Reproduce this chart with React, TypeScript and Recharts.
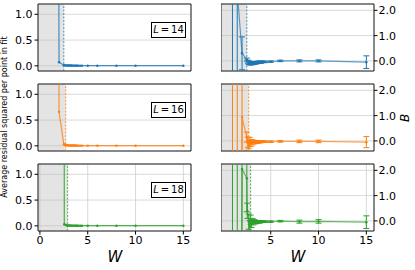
import React from 'react'
import { LineChart, Line, XAxis, YAxis, CartesianGrid, ReferenceArea, ReferenceLine, ErrorBar } from 'recharts'

// one row of panels per system size
const L_VALUES = [14, 16, 18]
const COLORS = ['#1f77b4', '#ff7f0e', '#2ca02c']
const W_CUT = [2.5, 2.7, 2.9]

const W14 = [1.0, 1.5, 2.0, 2.5, 2.6, 2.7, 2.8, 2.9, 3.0, 3.1, 3.2, 3.3, 3.4, 3.5, 3.6, 3.7, 3.8, 3.9, 4.0, 4.2, 4.4, 5, 6, 8, 10, 15]
const RES14 = [45, 30, 0.07, 0.012, 0.01, 0.009, 0.008, 0.007, 0.007, 0.006, 0.006, 0.006, 0.005, 0.005, 0.005, 0.005, 0.004, 0.004, 0.004, 0.004, 0.004, 0.003, 0.003, 0.003, 0.003, 0.003]
const B14 = [8, 2.74, 0.3, 0.05, -0.03, -0.07, -0.09, -0.1, -0.09, -0.09, -0.08, -0.08, -0.07, -0.07, -0.06, -0.06, -0.05, -0.05, -0.05, -0.04, -0.04, -0.03, 0.0, 0.0, 0.0, -0.05]
const ERR14 = [40, 6, 0.65, 0.06, 0.06, 0.07, 0.07, 0.06, 0.06, 0.06, 0.05, 0.05, 0.05, 0.05, 0.04, 0.04, 0.04, 0.04, 0.04, 0.03, 0.03, 0.03, 0.03, 0.04, 0.04, 0.25]

const W16 = [1.0, 1.5, 2.0, 2.5, 2.6, 2.7, 2.8, 2.9, 3.0, 3.1, 3.2, 3.3, 3.4, 3.5, 3.6, 3.7, 3.8, 3.9, 4.0, 4.2, 4.4, 5, 6, 8, 10, 15]
const RES16 = [50, 40, 0.66, 0.03, 0.02, 0.015, 0.012, 0.01, 0.009, 0.008, 0.008, 0.007, 0.007, 0.006, 0.006, 0.006, 0.005, 0.005, 0.005, 0.005, 0.004, 0.004, 0.004, 0.004, 0.003, 0.003]
const B16 = [-50, -60, 0.94, 0.15, -0.05, -0.16, 0.02, -0.12, -0.02, -0.09, -0.03, -0.07, -0.04, -0.06, -0.04, -0.05, -0.04, -0.04, -0.04, -0.03, -0.03, -0.03, -0.02, -0.02, -0.02, -0.05]
const ERR16 = [100, 100, 3, 0.2, 0.2, 0.15, 0.12, 0.1, 0.08, 0.07, 0.06, 0.05, 0.05, 0.04, 0.04, 0.04, 0.03, 0.03, 0.03, 0.03, 0.03, 0.03, 0.03, 0.05, 0.05, 0.22]

const W18 = [1.0, 1.5, 2.0, 2.5, 2.55, 2.7, 2.8, 2.9, 3.0, 3.1, 3.2, 3.3, 3.4, 3.5, 3.6, 3.7, 3.8, 3.9, 4.0, 4.2, 4.4, 5, 6, 8, 10, 15]
const RES18 = [60, 50, 40, 20, 0.03, 0.015, 0.01, 0.008, 0.007, 0.006, 0.006, 0.005, 0.005, 0.005, 0.004, 0.004, 0.004, 0.004, 0.003, 0.003, 0.003, 0.003, 0.003, 0.003, 0.003, 0.003]
const B18 = [-20, -30, 2.05, 1.69, 0.4, -0.03, -0.2, 0.05, -0.12, 0.0, -0.08, -0.02, -0.06, -0.03, -0.05, -0.04, -0.04, -0.04, -0.03, -0.03, -0.03, -0.03, -0.01, -0.03, -0.02, -0.05]
const ERR18 = [50, 50, 5, 1.33, 0.3, 0.3, 0.22, 0.18, 0.14, 0.1, 0.08, 0.07, 0.06, 0.05, 0.05, 0.04, 0.04, 0.04, 0.03, 0.03, 0.03, 0.03, 0.03, 0.06, 0.07, 0.25]

const X_TICKS = [0, 5, 10, 15]
const RES_TICKS = [0, 0.5, 1.0]
const B_TICKS = [0, 0.5, 1.0, 1.5, 2.0]

const X_DOMAIN: [number, number] = [-0.2, 15.8]
const RES_DOMAIN: [number, number] = [-0.1, 1.2]
const B_DOMAIN: [number, number] = [-0.4, 2.25]

const SERIES = [
  { w: W14, res: RES14, b: B14, err: ERR14 },
  { w: W16, res: RES16, b: B16, err: ERR16 },
  { w: W18, res: RES18, b: B18, err: ERR18 },
]

const tickStyle = { fontSize: 11, fill: '#000' }
const fmt = (v: number) => v.toFixed(1)

const Panel = ({ row }: { row: number }) => {
  const s = SERIES[row]
  const data = s.w.map((w, i) => ({ w, res: s.res[i], b: s.b[i], err: s.err[i] }))
  const color = COLORS[row]
  const cut = W_CUT[row]
  const last = row === SERIES.length - 1
  const h = last ? 110 : 80
  const xAxis = (
    <XAxis
      dataKey="w"
      type="number"
      domain={X_DOMAIN}
      ticks={X_TICKS}
      allowDataOverflow
      height={h - 71}
      tick={last ? tickStyle : false}
      tickSize={3.5}
      tickMargin={2}
      axisLine={false}
      tickLine={{ stroke: '#000' }}
    />
  )

  return (
    <>
      {/* residual panel */}
      <div style={{ position: 'absolute', left: 0, top: row * 80 }}>
        <LineChart width={200} height={h} data={data} margin={{ top: 4, right: 9, bottom: 0, left: 0 }}>
          <CartesianGrid stroke="#cfcfcf" strokeWidth={0.8} />
          {xAxis}
          <YAxis
            type="number"
            domain={RES_DOMAIN}
            ticks={RES_TICKS}
            allowDataOverflow
            width={38}
            tick={tickStyle}
            tickFormatter={fmt}
            tickSize={3.5}
            tickMargin={2}
            axisLine={false}
            tickLine={{ stroke: '#000' }}
          />
          <ReferenceArea x1={X_DOMAIN[0]} x2={cut} y1={RES_DOMAIN[0]} y2={RES_DOMAIN[1]} fill="#b8b8b8" fillOpacity={0.38} stroke="none" />
          <ReferenceLine x={cut} stroke={color} strokeOpacity={0.8} strokeDasharray="2 1.5" />
          <Line
            dataKey="res"
            stroke={color}
            strokeOpacity={0.8}
            strokeWidth={1.2}
            dot={{ r: 1.2, fill: color, stroke: 'none' }}
            isAnimationActive={false}
          />
          <ReferenceArea x1={X_DOMAIN[0]} x2={X_DOMAIN[1]} y1={RES_DOMAIN[0]} y2={RES_DOMAIN[1]} fill="none" stroke="#222" strokeWidth={1} />
        </LineChart>
      </div>

      {/* B panel: axes, grid, shading and frame */}
      <div style={{ position: 'absolute', left: 221, top: row * 80 }}>
        <LineChart width={188} height={h} data={data} margin={{ top: 4, right: 0, bottom: 0, left: 0 }}>
          <CartesianGrid stroke="#cfcfcf" strokeWidth={0.8} />
          {xAxis}
          <YAxis
            orientation="right"
            type="number"
            domain={B_DOMAIN}
            ticks={B_TICKS}
            allowDataOverflow
            width={35}
            tick={tickStyle}
            tickFormatter={fmt}
            tickSize={3.5}
            tickMargin={1}
            axisLine={false}
            tickLine={{ stroke: '#000' }}
          />
          <ReferenceArea x1={X_DOMAIN[0]} x2={cut} y1={B_DOMAIN[0]} y2={B_DOMAIN[1]} fill="#b8b8b8" fillOpacity={0.38} stroke="none" />
          <ReferenceLine x={cut} stroke={color} strokeOpacity={0.8} strokeDasharray="2 1.5" />
          <Line dataKey="b" stroke="none" dot={false} isAnimationActive={false} />
          <ReferenceArea x1={X_DOMAIN[0]} x2={X_DOMAIN[1]} y1={B_DOMAIN[0]} y2={B_DOMAIN[1]} fill="none" stroke="#222" strokeWidth={1} />
        </LineChart>
      </div>

      {/* B panel: series with error bars, clipped to the plot box */}
      <div style={{ position: 'absolute', left: 221, top: row * 80, clipPath: `inset(4px 35px ${h - 71}px 0px)` }}>
        <LineChart width={188} height={h} data={data} margin={{ top: 4, right: 35, bottom: h - 71, left: 0 }}>
          <XAxis dataKey="w" type="number" domain={X_DOMAIN} allowDataOverflow hide height={0} />
          <YAxis type="number" domain={B_DOMAIN} allowDataOverflow hide width={0} />
          <Line
            dataKey="b"
            stroke={color}
            strokeOpacity={0.7}
            strokeWidth={1.2}
            dot={{ r: 1.2, fill: color, stroke: 'none' }}
            isAnimationActive={false}
          >
            <ErrorBar dataKey="err" width={3} stroke={color} strokeWidth={1} direction="y" />
          </Line>
        </LineChart>
      </div>

      {/* L label box */}
      <div
        style={{
          position: 'absolute',
          left: 151,
          top: 22 + row * 80,
          width: 35,
          height: 16,
          boxSizing: 'border-box',
          border: '1.5px solid #000',
          background: '#fff',
          fontSize: 10,
          lineHeight: '13px',
          textAlign: 'center',
          whiteSpace: 'nowrap',
        }}
      >
        <i>L</i>{'\u2009=\u2009'}{L_VALUES[row]}
      </div>
    </>
  )
}

const centered = (x: number, y: number, extra: React.CSSProperties): React.CSSProperties => ({
  position: 'absolute',
  left: x,
  top: y,
  whiteSpace: 'nowrap',
  lineHeight: 1,
  ...extra,
})

export default function App() {
  return (
    <div
      style={{
        position: 'absolute',
        left: 0,
        top: 0,
        width: 415,
        height: 270,
        background: '#fff',
        fontFamily: '"DejaVu Sans", sans-serif',
        color: '#000',
        overflow: 'hidden',
      }}
    >
      {L_VALUES.map((_, i) => (
        <Panel key={i} row={i} />
      ))}
      <div style={centered(5, 117, { fontSize: 8, transform: 'translate(-50%, -50%) rotate(-90deg)' })}>
        Average residual squared per point in fit
      </div>
      <div style={centered(405, 118, { fontSize: 12, fontStyle: 'italic', transform: 'translate(-50%, -50%) rotate(-90deg)' })}>
        B
      </div>
      <div style={centered(115, 257, { fontSize: 15, fontStyle: 'italic', transform: 'translate(-50%, -50%)' })}>W</div>
      <div style={centered(298, 257, { fontSize: 15, fontStyle: 'italic', transform: 'translate(-50%, -50%)' })}>W</div>
    </div>
  )
}
